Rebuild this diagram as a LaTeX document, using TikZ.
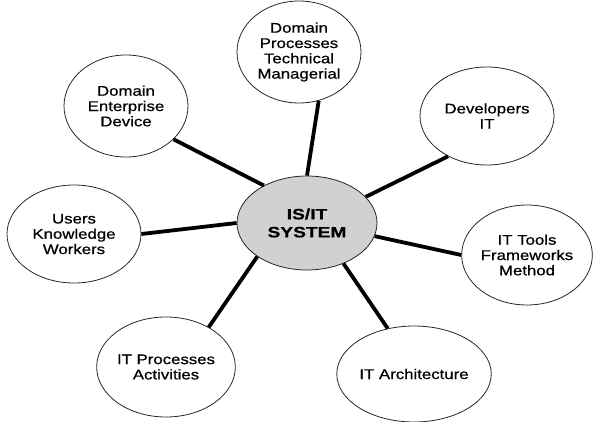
\documentclass[tikz,border=0pt]{standalone}
\usepackage{fontspec}
\usetikzlibrary{shapes.geometric}
\newfontfamily\labfont[FakeStretch=1.2,FakeBold=0.7]{Liberation Sans}
\newfontfamily\cenfont[FakeStretch=1.28,FakeBold=0.5]{Liberation Sans}
\begin{document}
\begin{tikzpicture}[x=1pt,y=-1pt,
  bubble/.style={ellipse,draw=black!85,line width=0.8pt,inner sep=0pt,align=center,
    font=\labfont\fontsize{14}{15.3}\selectfont},
  hub/.style={ellipse,draw=black!85,line width=0.8pt,fill=black!18,inner sep=0pt,align=center,
    font=\cenfont\bfseries\fontsize{15}{18}\selectfont,minimum width=140pt,minimum height=94pt},
  spoke/.style={line width=3.8pt,black}]
\useasboundingbox (0,0) rectangle (593,422);
\node[hub] (c) at (307,223) {IS/IT\\SYSTEM};
\node[bubble,minimum width=124pt,minimum height=102pt] (t) at (299,52) {Domain\\Processes\\Technical\\Managerial};
\node[bubble,minimum width=124pt,minimum height=102pt] (d) at (126,106) {Domain\\Enterprise\\Device};
\node[bubble,minimum width=134pt,minimum height=98pt] (v) at (487,116) {Developers\\IT};
\node[bubble,minimum width=134pt,minimum height=98pt] (u) at (74,234) {Users\\Knowledge\\Workers};
\node[bubble,minimum width=130pt,minimum height=100pt] (f) at (527,255) {IT Tools\\Frameworks\\Method};
\node[bubble,minimum width=126pt,minimum height=96pt] (a) at (414,374) {IT Architecture};
\node[bubble,minimum width=132pt,minimum height=100pt] (p) at (166,367) {IT Processes\\Activities};
\draw[spoke] (c.90) -- (t.-68);
\draw[spoke] (c.139) -- (d.-35);
\draw[spoke] (c.24) -- (v.226);
\draw[spoke] (c.180) -- (u.0);
\draw[spoke] (c.349) -- (f.180);
\draw[spoke] (c.312) -- (a.120);
\draw[spoke] (c.214) -- (p.43);
\end{tikzpicture}
\end{document}
